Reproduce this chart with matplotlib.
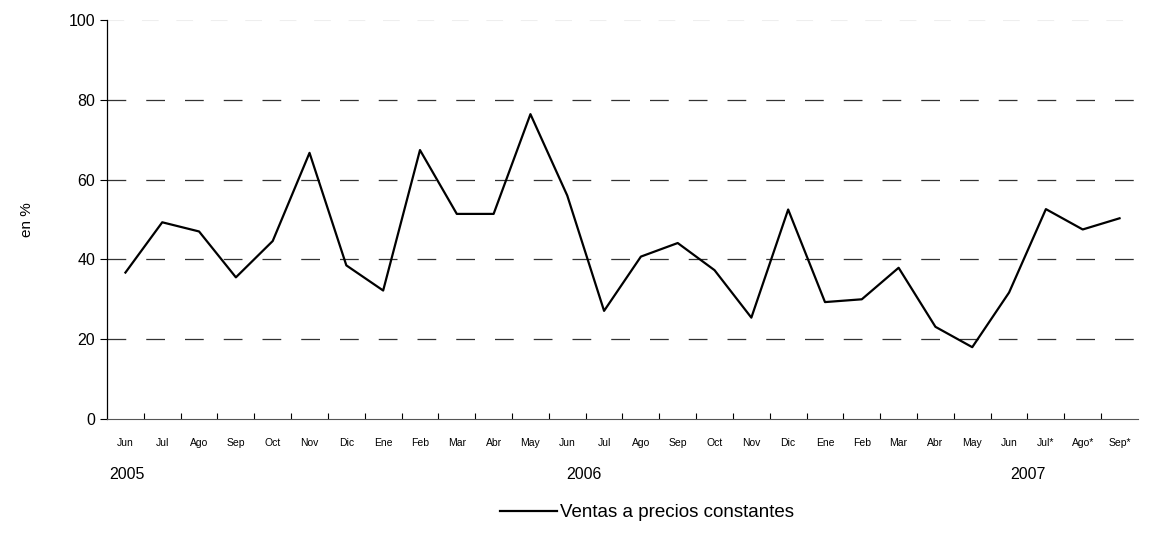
import numpy as np
import matplotlib.pyplot as plt

plt.rcParams['font.family'] = ['Liberation Sans', 'DejaVu Sans']

# Datos
meses = ["Jun", "Jul", "Ago", "Sep", "Oct", "Nov", "Dic", "Ene", "Feb", "Mar", "Abr", "May",
         "Jun", "Jul", "Ago", "Sep", "Oct", "Nov", "Dic", "Ene", "Feb", "Mar", "Abr", "May",
         "Jun", "Jul*", "Ago*", "Sep*"]
ventas = [36.7, 49.3, 47.0, 35.5, 44.6, 66.7, 38.5, 32.2, 67.4, 51.4, 51.4, 76.4,
          56.0, 27.1, 40.7, 44.1, 37.3, 25.4, 52.5, 29.3, 30.0, 37.9, 23.1, 18.0,
          31.7, 52.6, 47.5, 50.3]
anios = ["2005", "2006", "2007"]
pos_anios = [0.05, 12.45, 24.5]

x = np.arange(len(meses))

fig = plt.figure(figsize=(11.52, 5.49), dpi=100)
ax = fig.add_axes([0.0929, 0.2368, 0.8949, 0.7268])

ax.plot(x, ventas, color='black', linewidth=1.6, label="Ventas a precios constantes")

ax.set_xlim(-0.5, len(meses) - 0.5)
ax.set_ylim(0, 100)
ax.set_yticks([0, 20, 40, 60, 80, 100])
ax.tick_params(axis='y', labelsize=11.5, length=5, direction='out', width=0.8)

# ticks entre categorias
ax.set_xticks(np.arange(0.5, len(meses) - 0.5, 1.0))
ax.set_xticklabels([])
ax.tick_params(axis='x', which='major', direction='in', length=4, width=0.8)
ax.set_xticks(x, minor=True)
ax.set_xticklabels(meses, minor=True, fontsize=7.5)
ax.tick_params(axis='x', which='minor', length=0, pad=14)

for y in [20, 40, 60, 80]:
    ax.axhline(y, color='#333333', linewidth=0.9, linestyle=(0, (15, 16)), zorder=0)
ax.axhline(100, color='#eeeeee', linewidth=0.8, linestyle=(0, (15, 16)), zorder=0)

ax.spines['top'].set_visible(False)
ax.spines['right'].set_visible(False)
ax.spines['left'].set_linewidth(0.9)
ax.spines['bottom'].set_color('#555555')

for a, p in zip(anios, pos_anios):
    ax.text(p, -0.138, a, transform=ax.get_xaxis_transform(), ha='center', va='center', fontsize=11.5)

ax.set_ylabel("en %", fontsize=11, labelpad=25)

leg = fig.legend(loc='center', bbox_to_anchor=(0.562, 0.066), frameon=False, fontsize=13.5,
                 handlelength=3.0, handletextpad=0.2)

plt.savefig("out.png", dpi=100)
